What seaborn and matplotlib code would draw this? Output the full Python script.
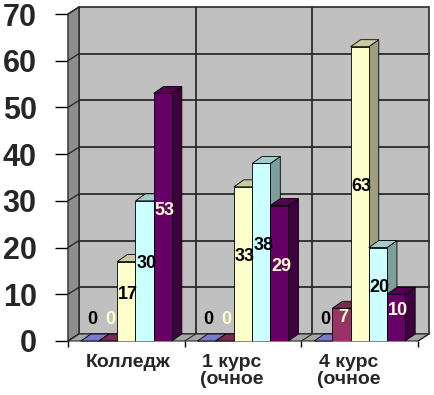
import numpy as np
import pandas as pd
import seaborn as sns
import matplotlib
matplotlib.use("Agg")
import matplotlib.pyplot as plt
import matplotlib.transforms as mtransforms
from matplotlib.patches import Polygon, Rectangle
from matplotlib.colors import to_rgb

# ---- data ----
categories = ["Колледж", "1 курс\n(очное", "4 курс\n(очное"]
series_names = ["Ряд1", "Ряд2", "Ряд3", "Ряд4", "Ряд5"]
s1 = [0, 0, 0]
s2 = [0, 0, 7]
s3 = [17, 33, 63]
s4 = [30, 38, 20]
s5 = [53, 29, 10]
series_values = [s1, s2, s3, s4, s5]
colors = ["#9999FF", "#993366", "#FFFFCC", "#CCFFFF", "#660066"]
label_colors = ["black", "#FFFFCC", "black", "black", "#FFFFCC"]
yticks = [0, 10, 20, 30, 40, 50, 60, 70]

rows = []
for name, vals in zip(series_names, series_values):
    for cat, v in zip(categories, vals):
        rows.append({"category": cat, "series": name, "value": v})
df = pd.DataFrame(rows)

sns.set_theme(style="white")
plt.rcParams["font.family"] = ["Liberation Sans", "DejaVu Sans"]

fig = plt.figure(figsize=(4.35, 3.95), dpi=100)
ax = fig.add_axes([68 / 435, 54 / 395, 350 / 435, 327 / 395])
ax.set_facecolor("none")

sns.barplot(data=df, x="category", y="value", hue="series", order=categories,
            hue_order=series_names, palette=colors, saturation=1, width=0.78,
            edgecolor="black", linewidth=0.6, legend=False, ax=ax, zorder=5)
bars = [p for p in ax.patches if isinstance(p, Rectangle)]

x0, x1 = -0.5, 2.5
ymax = 70
ax.set_xlim(x0, x1)
ax.set_ylim(0, ymax)

# pixel -> data conversion
pos = ax.get_position()
wpx = pos.width * fig.get_figwidth() * fig.dpi
hpx = pos.height * fig.get_figheight() * fig.dpi
pxx = (x1 - x0) / wpx
pxy = ymax / hpx

wdx, wdy = 11 * pxx, 7 * pxy   # wall depth
bdx, bdy = 10 * pxx, 7 * pxy   # bar depth

grid_c = "#2a2a2a"
# back wall
ax.add_patch(Polygon([(x0 + wdx, wdy), (x1 + wdx, wdy), (x1 + wdx, ymax + wdy), (x0 + wdx, ymax + wdy)],
                     closed=True, fc="#C0C0C0", ec=grid_c, lw=1.2, zorder=0.5, clip_on=False))
for v in yticks[1:-1]:
    ax.plot([x0 + wdx, x1 + wdx], [v + wdy, v + wdy], color=grid_c, lw=1.3, zorder=0.6, clip_on=False)
for b in [0.5, 1.5]:
    ax.plot([b + wdx, b + wdx], [wdy, ymax + wdy], color=grid_c, lw=1.3, zorder=0.6, clip_on=False)
# left wall
ax.add_patch(Polygon([(x0, 0), (x0 + wdx, wdy), (x0 + wdx, ymax + wdy), (x0, ymax)],
                     closed=True, fc="#8E8E8E", ec=grid_c, lw=1.0, zorder=0.7, clip_on=False))
for v in yticks:
    ax.plot([x0, x0 + wdx], [v, v + wdy], color=grid_c, lw=1.0, zorder=0.8, clip_on=False)
# floor
ax.add_patch(Polygon([(x0, 0), (x1, 0), (x1 + wdx, wdy), (x0 + wdx, wdy)],
                     closed=True, fc="#A6A6A6", ec=grid_c, lw=0.8, zorder=0.9, clip_on=False))
for b in [-0.5, 0.5, 1.5, 2.5]:
    ax.plot([b, b + wdx], [0, wdy], color=grid_c, lw=0.8, zorder=1.0, clip_on=False)

# 3D faces of the bars
order = sorted(range(len(bars)), key=lambda k: bars[k].get_x())
for rank, k in enumerate(order):
    p = bars[k]
    bx, bw, bh = p.get_x(), p.get_width(), p.get_height()
    col = np.array(to_rgb(p.get_facecolor()))
    side = tuple(col * 0.62)
    top = tuple(col * 0.80)
    z = 10 + 2 * rank
    ax.add_patch(Polygon([(bx + bw, 0), (bx + bw + bdx, bdy), (bx + bw + bdx, bh + bdy), (bx + bw, bh)],
                         closed=True, fc=side, ec="black", lw=0.6, zorder=z, clip_on=False))
    ax.add_patch(Polygon([(bx, bh), (bx + bw, bh), (bx + bw + bdx, bh + bdy), (bx + bdx, bh + bdy)],
                         closed=True, fc=top, ec="black", lw=0.6, zorder=z, clip_on=False))
    p.set_zorder(z + 1)

# data labels
ncat = len(categories)
for i, vals in enumerate(series_values):
    for j, v in enumerate(vals):
        p = bars[i * ncat + j]
        xc = p.get_x() + p.get_width() / 2 + 2 * pxx
        yc = max(v / 2 + 1.5, 4.5)
        ax.text(xc, yc, str(v), ha="center", va="center", fontsize=13, fontweight="bold",
                color=label_colors[i], zorder=100)

# axes styling
for sp in ax.spines.values():
    sp.set_visible(False)
ax.set_xlabel("")
ax.set_ylabel("")
ax.set_yticks(yticks)
ax.set_yticklabels([str(t) for t in yticks], fontsize=22, fontweight="bold")
ax.tick_params(axis="y", left=True, length=9.5, width=1.0, color="black", pad=13)

# category labels (drawn as text below the floor)
ax.set_xticks([-0.5, 0.5, 1.5, 2.5])
ax.set_xticklabels([])
ax.tick_params(axis="x", which="major", bottom=True, length=4, width=1.0, color="black")
label_shift_px = [2, -11, -11]
for j, cat in enumerate(categories):
    tr = ax.get_xaxis_transform() + mtransforms.ScaledTranslation(label_shift_px[j] / 100, -13 / 100, fig.dpi_scale_trans)
    ax.text(j, 0, cat, transform=tr, ha="center", va="top", fontsize=14, fontweight="bold",
            linespacing=1.0, clip_on=False)
ax.grid(False)

fig.savefig("out.png", dpi=100)
